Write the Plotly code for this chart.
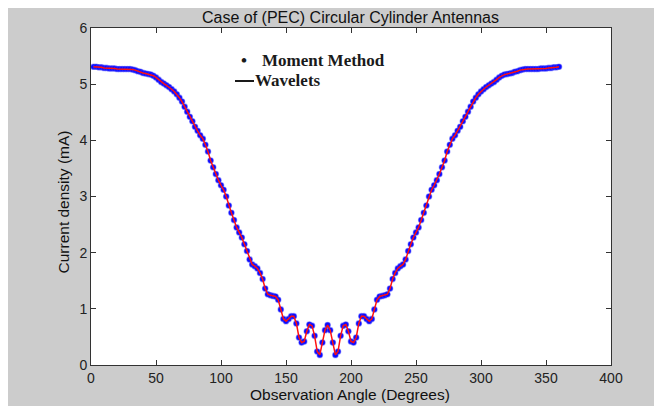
import plotly.graph_objects as go

# Observation angle (degrees)
angles = list(range(2, 361, 2))

# Current density (mA), Moment Method samples, left half 2..182
current_left = [
    5.31, 5.31, 5.30, 5.30, 5.29, 5.29, 5.28, 5.28, 5.28, 5.27,
    5.27, 5.27, 5.27, 5.27, 5.27, 5.26, 5.25, 5.23, 5.22, 5.20,
    5.19, 5.18, 5.17, 5.15, 5.12, 5.08, 5.04, 5.01, 4.98, 4.95,
    4.91, 4.87, 4.82, 4.76, 4.69, 4.60, 4.51, 4.42, 4.34, 4.24,
    4.17, 4.09, 4.03, 3.92, 3.80, 3.64, 3.52, 3.40, 3.29, 3.20,
    3.12, 3.00, 2.84, 2.71, 2.58, 2.45, 2.36, 2.27, 2.15, 2.03,
    1.88, 1.79, 1.76, 1.72, 1.64, 1.53, 1.36, 1.26, 1.24, 1.23,
    1.22, 1.16, 0.99, 0.82, 0.78, 0.82, 0.87, 0.87, 0.74, 0.49,
    0.40, 0.42, 0.60, 0.72, 0.70, 0.52, 0.24, 0.18, 0.40, 0.62,
    0.71,
]
# right half 184..360
current_right = [
    0.62, 0.40, 0.18, 0.24, 0.52, 0.70, 0.72, 0.60, 0.42, 0.40,
    0.49, 0.74, 0.87, 0.87, 0.82, 0.78, 0.82, 0.99, 1.16, 1.22,
    1.23, 1.24, 1.26, 1.36, 1.53, 1.64, 1.72, 1.76, 1.79, 1.88,
    2.03, 2.15, 2.27, 2.36, 2.45, 2.58, 2.71, 2.84, 3.00, 3.12,
    3.20, 3.29, 3.40, 3.52, 3.64, 3.80, 3.92, 4.03, 4.09, 4.17,
    4.24, 4.34, 4.42, 4.51, 4.60, 4.69, 4.76, 4.82, 4.87, 4.91,
    4.95, 4.98, 5.01, 5.04, 5.08, 5.12, 5.15, 5.17, 5.18, 5.19,
    5.20, 5.22, 5.23, 5.25, 5.26, 5.27, 5.27, 5.27, 5.27, 5.27,
    5.27, 5.28, 5.28, 5.28, 5.29, 5.29, 5.30, 5.30, 5.31,
]
moment_method = current_left + current_right
wavelets = current_left + current_right

x_ticks = [0, 50, 100, 150, 200, 250, 300, 350, 400]
y_ticks = [0, 1, 2, 3, 4, 5, 6]

# the page body adds an 8px offset; design in screen pixels
OFF = 8
SW, SH = 662, 406
W, H = SW - OFF, SH - OFF
PX0, PX1, PY0, PY1 = 91, 611, 28, 365  # plot area in screen pixels
L, T = PX0 - OFF, PY0 - OFF
R, B = SW - PX1, SH - PY1
PW, PH = PX1 - PX0, PY1 - PY0


def px(xp):
    return (xp - PX0) / PW


def py(yp):
    return (PY1 - yp) / PH


fig = go.Figure()
fig.add_trace(go.Scatter(
    x=angles, y=moment_method, mode="markers", name="Moment Method",
    marker=dict(color="#0a0aff", size=5.5, line=dict(color="rgba(60,60,255,0.45)", width=1.2)),
    showlegend=False,
))
fig.add_trace(go.Scatter(
    x=angles, y=wavelets, mode="lines", name="Wavelets",
    line=dict(color="#ff1010", width=1.5),
    showlegend=False,
))

axis_font = dict(family="Liberation Sans, Arial, sans-serif", size=14, color="#222222")
common = dict(
    showgrid=False, zeroline=False, showline=True, linecolor="#333333", linewidth=1,
    mirror="ticks", ticks="inside", ticklen=5, tickcolor="#333333", tickwidth=1,
    tickfont=axis_font,
)
fig.update_xaxes(range=[0, 400], tickvals=x_ticks, **common)
fig.update_yaxes(range=[0, 6], tickvals=y_ticks, **common)

title_font = dict(family="Liberation Sans, Arial, sans-serif", size=16, color="#111111")
lab_font = dict(family="Liberation Sans, Arial, sans-serif", size=15.5, color="#111111")
leg_font = dict(family="Liberation Serif, Times New Roman, serif", size=17, color="#1a1a1a")

annotations = [
    dict(text="Case of (PEC) Circular Cylinder Antennas", x=px(350), y=py(OFF),
         xref="paper", yref="paper", showarrow=False, xanchor="center", yanchor="top",
         borderpad=0, font=title_font),
    dict(text="Observation Angle (Degrees)", x=px(349.5), y=py(394),
         xref="paper", yref="paper", showarrow=False, xanchor="center", yanchor="middle", font=lab_font),
    dict(text="Current density (mA)", x=px(63), y=py(202.5), textangle=-90,
         xref="paper", yref="paper", showarrow=False, xanchor="center", yanchor="middle", font=lab_font),
    dict(text="<b>•</b>", x=px(244), y=py(60.5),
         xref="paper", yref="paper", showarrow=False, xanchor="center", yanchor="middle", font=leg_font),
    dict(text="<b>Moment Method</b>", x=px(260), y=py(60.5),
         xref="paper", yref="paper", showarrow=False, xanchor="left", yanchor="middle", font=leg_font),
    dict(text="<b>Wavelets</b>", x=px(253), y=py(80.5),
         xref="paper", yref="paper", showarrow=False, xanchor="left", yanchor="middle", font=leg_font),
]

shapes = [
    dict(type="line", xref="paper", yref="paper", x0=px(235), x1=px(254), y0=py(81), y1=py(81),
         line=dict(color="#1a1a1a", width=2)),
]

fig.update_layout(
    width=W, height=H, autosize=False,
    margin=dict(l=L, r=R, t=T, b=B, pad=0),
    paper_bgcolor="#cccccc", plot_bgcolor="white",
    annotations=annotations, shapes=shapes,
    showlegend=False,
)

fig.write_html("out.html")
